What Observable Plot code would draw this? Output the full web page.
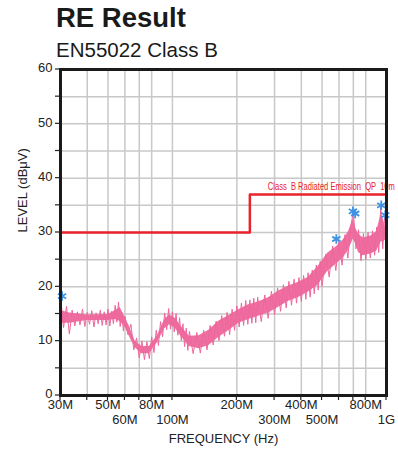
<!DOCTYPE html>
<html><head><meta charset="utf-8">
<script src="https://cdn.jsdelivr.net/npm/d3@7"></script>
<script src="https://cdn.jsdelivr.net/npm/@observablehq/plot@0.6"></script>
<style>
body{margin:0;background:#fff;font-family:"Liberation Sans",Arial,sans-serif;}
#wrap{position:relative;width:398px;height:457px;overflow:hidden;}
#title{position:absolute;left:56px;top:4px;font-size:27.5px;line-height:27.5px;font-weight:bold;color:#1a1a1a;white-space:nowrap;}
#sub{position:absolute;left:56px;top:40px;font-size:20.5px;line-height:20.5px;color:#1a1a1a;white-space:nowrap;}
#chart{position:absolute;left:0;top:60px;}
</style></head><body>
<div id="wrap"><div id="title">RE Result</div><div id="sub">EN55022 Class B</div><div id="chart"></div></div>
<script>
// Measured trace (MHz, dBµV)
const traceMHz = [30,31,32,33,34,35,36,37,38,39,40,41,42,43,44,45,46,47,48,49,50,51,52,53,54,55,56,57,58,59,60,
  62,64,66,68,70,72,74,76,78,80,82,84,86,88,90,92,94,96,98,100,102,104,106,108,110,112,114,116,118,120,
  125,130,135,140,145,150,155,160,165,170,175,180,185,190,195,200,205,210,215,220,225,230,235,240,245,250,
  260,270,280,290,300,310,320,330,340,350,360,370,380,390,400,410,420,430,440,450,460,470,480,490,500,
  520,540,560,580,600,620,640,660,680,700,720,740,760,780,800,820,840,860,880,900,920,940,960,980,1000];
const traceDb = [18.3,12.5,16.4,11.3,15.7,12.8,15.4,13.0,15.9,12.7,15.3,13.1,15.6,12.6,15.2,13.2,15.7,12.9,15.4,13.0,15.9,12.8,15.5,13.2,16.6,13.5,17.2,12.7,15.3,11.9,14.6,
  11.2,13.1,8.4,10.6,6.9,10.0,6.6,9.9,6.8,10.8,7.9,12.0,9.2,13.6,10.8,15.2,12.1,16.0,12.2,15.4,11.7,15.1,11.1,14.3,10.1,13.2,9.0,12.4,8.3,11.8,
  7.7,11.6,7.8,12.0,8.4,12.9,9.3,13.7,10.1,14.7,10.9,15.3,11.2,15.9,12.0,16.5,12.6,17.0,12.9,17.5,13.1,17.6,13.3,17.9,13.4,18.1,
  13.6,18.5,14.2,19.2,14.9,19.8,15.5,20.4,16.1,21.0,16.6,21.4,17.0,21.7,17.3,22.1,17.7,22.6,18.1,23.1,18.7,24.0,19.4,24.7,20.1,
  26.0,21.8,27.5,23.0,28.4,24.0,29.6,25.3,31.0,33.8,27.0,30.5,24.8,29.8,25.0,30.0,25.3,30.3,25.8,31.0,26.3,34.8,27.0,33.0,29.0];
// Dense core of the noisy trace (MHz, low / high dBµV)
const bandMHz = [30,31,33,40,50,54,57,60,63,67,72,78,85,92,97,103,110,120,133,148,165,183,204,227,252,281,312,347,386,430,478,531,583,630,665,700,720,740,780,850,900,945,970,1000];
const bandHi = [15.5,15.5,15.2,14.8,14.9,15.6,16.2,14.4,12.7,10.0,9.0,9.0,11.0,14.0,14.8,14.2,12.7,10.9,11.0,12.0,13.7,14.7,15.8,16.7,17.2,18.0,19.2,20.1,20.8,21.7,23.7,26.2,27.4,28.7,30.2,32.5,30.7,29.7,29.0,29.4,30.2,33.5,32.2,30.2];
const bandLo = [13.3,13.3,13.3,13.8,13.8,14.0,13.6,12.6,10.8,8.8,7.7,7.7,9.7,12.3,13.0,12.4,10.8,9.0,8.6,9.2,10.7,11.9,13.3,14.0,14.6,15.2,16.2,17.3,18.0,19.0,20.3,22.8,24.2,25.4,26.8,28.8,27.8,26.3,25.7,26.1,26.6,28.3,28.3,28.8];
// Peak markers
const peakMHz = [30.5, 583, 697, 714, 945, 987];
const peakDb = [18.3, 28.8, 33.9, 33.5, 35.0, 33.2];
// Limit line
const limitMHz = [30, 230, 230, 1000];
const limitDb = [30, 30, 37, 37];
const limitLabel = "Class  B Radiated Emission  QP  10m";
// Axes
const xTicks = [30,40,50,60,70,80,100,200,300,400,500,600,700,800,1000];
const xGrid = [40,50,60,70,80,100,200,300,400,500,600,700,800];
const xLabelsRow1 = [30,50,80,200,400,800];
const xLabelsRow2 = [60,100,300,500,1000];
const yTicks = [0,5,10,15,20,25,30,35,40,45,50,55,60];
const yLabels = [0,10,20,30,40,50,60];
const yGrid = [5,10,15,20,25,30,35,40,45,50,55];

const trace = traceMHz.map((f,i)=>({f, db: traceDb[i]}));
const band = bandMHz.map((f,i)=>({f, lo: bandLo[i], hi: bandHi[i]}));
const peaks = peakMHz.map((f,i)=>({f, db: peakDb[i]}));
const limit = limitMHz.map((f,i)=>({f, db: limitDb[i]}));
const fmt = f => f >= 1000 ? (f/1000) + "G" : f + "M";
const ink = "#222";
const pink = "#ee679c";
const font = "'Liberation Sans', Arial, sans-serif";

const chart = Plot.plot({
  width: 398, height: 397,
  marginTop: 9, marginRight: 12, marginBottom: 62, marginLeft: 60,
  x: {type: "log", domain: [30, 1000], axis: null},
  y: {domain: [0, 60], axis: null},
  style: {fontFamily: font, fontSize: "13px", color: ink, background: "transparent"},
  marks: [
    Plot.ruleX(xGrid, {x: d => d, stroke: "#c8c8c8", strokeWidth: 1.5}),
    Plot.ruleY(yGrid, {y: d => d, stroke: "#c8c8c8", strokeWidth: 1.5}),
    Plot.areaY(band, {x: "f", y1: "lo", y2: "hi", fill: pink, fillOpacity: 0.95}),
    Plot.line(trace, {x: "f", y: "db", stroke: pink, strokeWidth: 1}),
    Plot.line(limit, {x: "f", y: "db", stroke: "#e8232a", strokeWidth: 2.5}),
    Plot.text([limit[2]], {x: "f", y: "db", text: () => limitLabel, dx: 18, dy: -4, lineAnchor: "bottom", textAnchor: "start", fill: "#e8232a", fontSize: 10.5, fontFamily: "'Liberation Sans Narrow', 'Liberation Sans', Arial, sans-serif"}),
    Plot.dot(peaks, {x: "f", y: "db", symbol: "asterisk", stroke: "#3f93e2", r: 4.5, strokeWidth: 1.8}),
    Plot.frame({stroke: "#1a1a1a", strokeWidth: 3}),
    // y labels
    Plot.text(yLabels, {y: d => d, frameAnchor: "left", dx: -8, dy: -1.5, textAnchor: "end", fontSize: 13, fill: ink}),
    // x labels
    Plot.text(xLabelsRow1, {x: d => d, text: fmt, frameAnchor: "bottom", dy: 13.5, fontSize: 13, fill: ink}),
    Plot.text(xLabelsRow2, {x: d => d, text: fmt, frameAnchor: "bottom", dy: 28.8, fontSize: 13, fill: ink}),
    Plot.text(["FREQUENCY (Hz)"], {frameAnchor: "bottom", dy: 47, fontSize: 13, fill: ink}),
    Plot.text(["LEVEL (dBμV)"], {frameAnchor: "left", dx: -38, rotate: -90, fontSize: 13, fill: ink})
  ]
});
document.getElementById("chart").appendChild(chart);
// short tick strokes outside the frame, positioned with the chart's own scales
const xs = chart.scale("x"), ys = chart.scale("y");
const svg = d3.select(chart);
const gx = svg.append("g").attr("stroke", ink).attr("stroke-width", 1.2);
xTicks.forEach(f => { const px = xs.apply(f); gx.append("line").attr("x1", px).attr("x2", px).attr("y1", ys.apply(0)).attr("y2", ys.apply(0) + 5); });
const gy = svg.append("g").attr("stroke", ink).attr("stroke-width", 1.2);
yTicks.forEach(v => { const py = ys.apply(v); gy.append("line").attr("x1", 55).attr("x2", 60).attr("y1", py).attr("y2", py); });
svg.selectAll("text").filter(function(){ return this.textContent === limitLabel; })
  .attr("textLength", 127).attr("lengthAdjust", "spacingAndGlyphs").style("white-space", "pre");
</script>
</body></html>
